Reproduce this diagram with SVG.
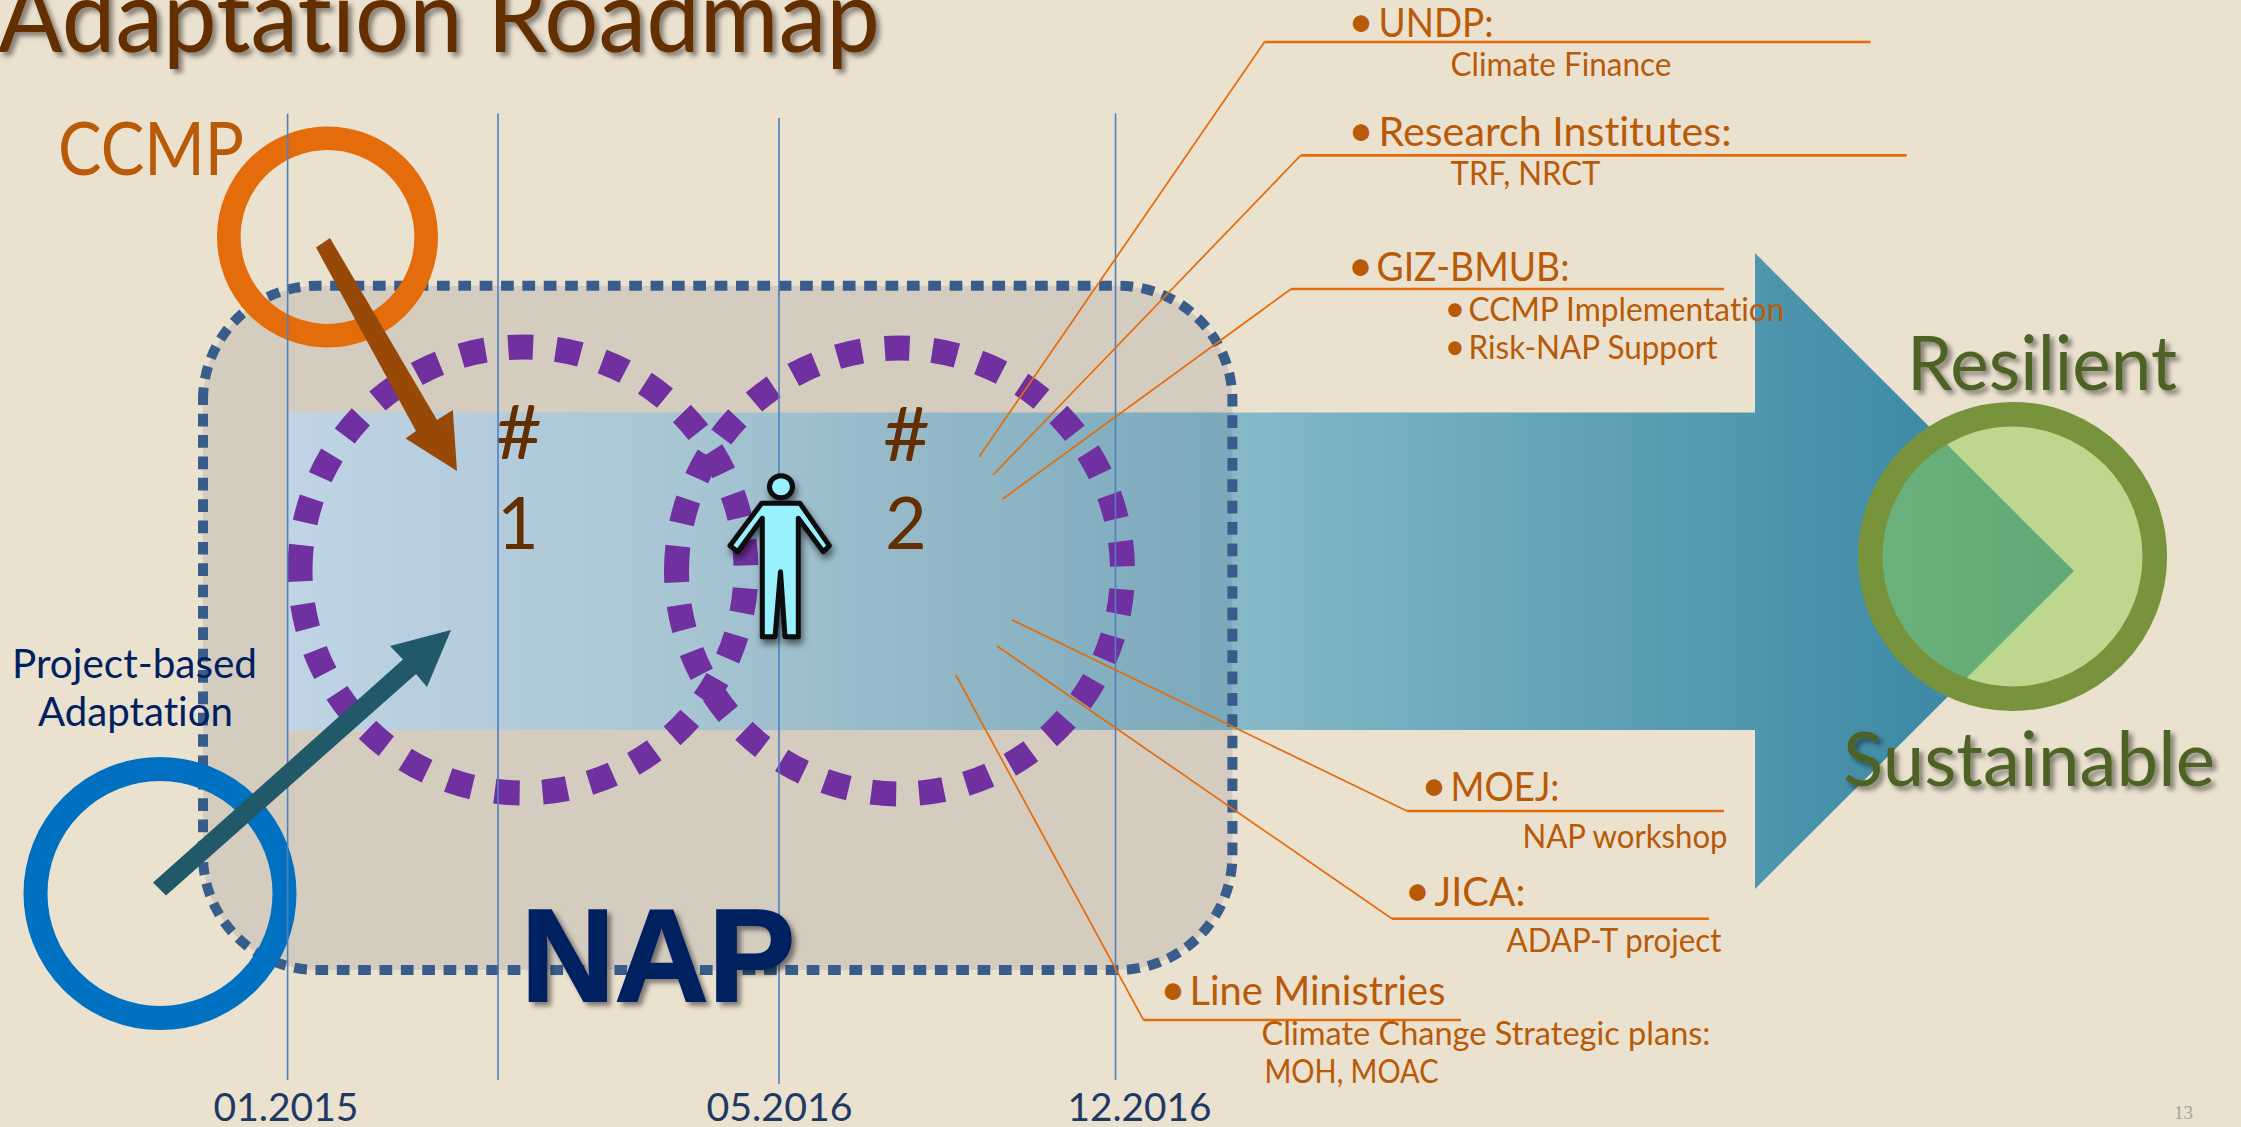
<svg xmlns="http://www.w3.org/2000/svg" width="2241" height="1127" viewBox="0 0 2241 1127">
<style>
text{font-family:"Lato","Open Sans","Liberation Sans",sans-serif;font-variant-ligatures:none}
.or{fill:#B85A08}
.h{font-size:40px}
.s{font-size:33px}
.b{fill:#B85A08;text-anchor:middle}
.bh{font-size:44px}
.bs{font-size:36px}
.dark{fill:#632E02;font-size:72px}
.hash{fill:#632E02;font-size:76px}
.date{fill:#1F3864;font-size:38px}
.navy{fill:#002060;font-size:40px}
.green{fill:#4F6228;font-size:75px}
.lead{stroke:#E46C0A;stroke-width:1.7;fill:none}
.rule{stroke:#E46C0A;stroke-width:2.6;fill:none}
.vl{stroke:#4F81BD;stroke-width:1.6;fill:none}
.pc{fill:none;stroke:#7030A0;stroke-width:25;stroke-dasharray:25 22.9}
</style>
<defs>
<linearGradient id="band" gradientUnits="userSpaceOnUse" x1="288" y1="0" x2="2075" y2="0">
<stop offset="0" stop-color="#D3E9F8"/>
<stop offset="0.2" stop-color="#BCDBE6"/>
<stop offset="0.53" stop-color="#86BAC9"/>
<stop offset="0.8" stop-color="#5399B0"/>
<stop offset="0.91" stop-color="#3F8BA6"/>
<stop offset="1" stop-color="#3F8BA6"/>
</linearGradient>
<linearGradient id="tip" gradientUnits="userSpaceOnUse" x1="1870" y1="0" x2="2075" y2="0">
<stop offset="0" stop-color="#6CB27B"/>
<stop offset="1" stop-color="#62A878"/>
</linearGradient>
<filter id="sh" x="-10%" y="-20%" width="125%" height="150%">
<feDropShadow dx="4" dy="4" stdDeviation="2.5" flood-color="#000" flood-opacity="0.45"/>
</filter>
<filter id="psh" x="-30%" y="-20%" width="160%" height="140%">
<feGaussianBlur stdDeviation="0.7" in="SourceGraphic" result="s"/>
<feDropShadow dx="2" dy="5" stdDeviation="3.5" flood-color="#000" flood-opacity="0.55" in="s"/>
</filter>
<clipPath id="inner"><circle cx="2012.5" cy="556.5" r="142"/></clipPath>
</defs>
<rect width="2241" height="1127" fill="#EBE1CF"/>

<g id="title"><text x="-2" y="52" font-size="100" fill="#632E02" textLength="882" lengthAdjust="spacingAndGlyphs" filter="url(#sh)">Adaptation Roadmap</text></g>

<g id="band-arrow"><path d="M288 412.5H1755V253L2074 571L1755 889V730H288Z" fill="url(#band)"/></g>

<g id="nap-box">
<path d="M203 400A114.3 114.3 0 0 1 317.3 285.7H1118.1A114.3 114.3 0 0 1 1232.4 400V855.7A114.3 114.3 0 0 1 1118.1 970H317.3A114.3 114.3 0 0 1 203 855.7Z" fill="#000328" fill-opacity="0.09"/>
<path d="M203 400A114.3 114.3 0 0 1 317.3 285.7H1118.1A114.3 114.3 0 0 1 1232.4 400V855.7A114.3 114.3 0 0 1 1118.1 970H317.3A114.3 114.3 0 0 1 203 855.7Z" fill="none" stroke="#385D8A" stroke-width="10" stroke-dasharray="12.7 8.66"/>
</g>

<g id="phase-1">
<path class="pc" d="M300 570A223 223 0 1 1 746 570A223 223 0 1 1 300 570Z"/>
<text class="hash" x="495" y="459" textLength="47" lengthAdjust="spacingAndGlyphs">#</text>
<text class="dark" x="518" y="549" text-anchor="middle">1</text>
</g>
<g id="phase-2">
<path class="pc" d="M676.5 571A223 223 0 1 1 1122.5 571A223 223 0 1 1 676.5 571Z"/>
<text class="hash" x="883" y="461" textLength="47" lengthAdjust="spacingAndGlyphs">#</text>
<text class="dark" x="906" y="549" text-anchor="middle">2</text>
</g>

<g id="outcome">
<circle cx="2012.5" cy="556.5" r="142" fill="#BDD78E"/>
<path d="M1755 253L2074 571L1755 889Z" fill="url(#tip)" clip-path="url(#inner)"/>
<circle cx="2012.5" cy="556.5" r="142.3" fill="none" stroke="#77933C" stroke-width="24.6"/>
</g>

<g id="ccmp">
<circle cx="327.5" cy="237" r="98.7" fill="none" stroke="#E46C0A" stroke-width="23.6"/>
<text x="58" y="175" font-size="74" class="or" textLength="186" lengthAdjust="spacingAndGlyphs">CCMP</text>
</g>
<g id="project-based">
<circle cx="160" cy="893.5" r="124.5" fill="none" stroke="#0070C0" stroke-width="24"/>
<text class="navy" x="12" y="678" textLength="245" lengthAdjust="spacingAndGlyphs">Project-based</text>
<text class="navy" x="38" y="726" textLength="195" lengthAdjust="spacingAndGlyphs">Adaptation</text>
</g>

<g id="timeline">
<path class="vl" d="M287.6 113.6V1080M498 113.6V1080M779 118V1084M1115.5 113.6V1080"/>
<text class="date" x="213.5" y="1121" textLength="145" lengthAdjust="spacingAndGlyphs">01.2015</text>
<text class="date" x="706.5" y="1121" textLength="146" lengthAdjust="spacingAndGlyphs">05.2016</text>
<text class="date" x="1067.5" y="1121" textLength="144" lengthAdjust="spacingAndGlyphs">12.2016</text>
</g>

<g id="connectors">
<path d="M316 247.5L330 238L437 420L452.8 410L457 471L405.6 438.6L416 431Z" fill="#984807"/>
<path d="M153 882.6L166 895.6L416 674L427 687L451 630L390 646L403 659.5Z" fill="#215968"/>
<path class="lead" d="M1264.5 42L979 457M1300.7 155.4L993 475M1291 289L1002.7 499M1407 811L1011.7 619.7M1392 918.8L997 646M1143.5 1020L955.8 675"/>
<path class="rule" d="M1264.5 42H1870.5M1300.7 155.4H1906.7M1291 289H1724M1407 811H1724M1392 918.8H1709M1143.5 1020H1461"/>
</g>

<g id="person" filter="url(#psh)">
<ellipse cx="781" cy="486.7" rx="11.5" ry="11" fill="#99F0FF" stroke="#0A0A0A" stroke-width="5"/>
<path d="M761.7 503.3H800L829.3 545.7L823.3 551.7L798.3 518.3V636.7H785L780.5 571.7L775 636.7H762.3V518.3L737.7 551.7L730 545.7Z" fill="#99F0FF" stroke="#0A0A0A" stroke-width="5" stroke-linejoin="round"/>
</g>

<g id="nap-label"><text x="521" y="1001" font-size="132" font-weight="700" fill="#002060" stroke="#002060" stroke-width="2" textLength="274" lengthAdjust="spacingAndGlyphs" style="font-family:'Liberation Sans',sans-serif" filter="url(#sh)">NAP</text></g>

<g id="undp">
<text class="b bh" x="1361" y="37">•</text>
<text class="or h" x="1378.5" y="37" textLength="115" lengthAdjust="spacingAndGlyphs">UNDP:</text>
<text class="or s" x="1450.5" y="76" textLength="221" lengthAdjust="spacingAndGlyphs">Climate Finance</text>
</g>
<g id="research">
<text class="b bh" x="1361" y="146">•</text>
<text class="or h" x="1378.5" y="145.8" textLength="353" lengthAdjust="spacingAndGlyphs">Research Institutes:</text>
<text class="or s" x="1450.5" y="184.6" textLength="150" lengthAdjust="spacingAndGlyphs">TRF, NRCT</text>
</g>
<g id="giz">
<text class="b bh" x="1360.5" y="281">•</text>
<text class="or h" x="1376.5" y="281.2" textLength="193" lengthAdjust="spacingAndGlyphs">GIZ-BMUB:</text>
<text class="b bs" x="1455" y="321">•</text>
<text class="or s" x="1468.5" y="320.7" textLength="316" lengthAdjust="spacingAndGlyphs">CCMP Implementation</text>
<text class="b bs" x="1455" y="359">•</text>
<text class="or s" x="1468.5" y="359" textLength="249" lengthAdjust="spacingAndGlyphs">Risk-NAP Support</text>
</g>
<g id="moej">
<text class="b bh" x="1434" y="801">•</text>
<text class="or h" x="1450.5" y="800.6" textLength="109" lengthAdjust="spacingAndGlyphs">MOEJ:</text>
<text class="or s" x="1522.5" y="847.5" textLength="205" lengthAdjust="spacingAndGlyphs">NAP workshop</text>
</g>
<g id="jica">
<text class="b bh" x="1417.6" y="906">•</text>
<text class="or h" x="1434.5" y="905.5" textLength="91" lengthAdjust="spacingAndGlyphs">JICA:</text>
<text class="or s" x="1506.5" y="952.4" textLength="215" lengthAdjust="spacingAndGlyphs">ADAP-T project</text>
</g>
<g id="ministries">
<text class="b bh" x="1173" y="1005">•</text>
<text class="or h" x="1189.5" y="1005.2" textLength="256" lengthAdjust="spacingAndGlyphs">Line Ministries</text>
<text class="or s" x="1261.5" y="1044.6" textLength="449" lengthAdjust="spacingAndGlyphs">Climate Change Strategic plans:</text>
<text class="or s" x="1264.5" y="1082.6" textLength="174" lengthAdjust="spacingAndGlyphs">MOH, MOAC</text>
</g>

<g id="resilient"><text class="green" x="1907" y="390" textLength="270" lengthAdjust="spacingAndGlyphs" filter="url(#sh)">Resilient</text></g>
<g id="sustainable"><text class="green" x="1843" y="786" textLength="372" lengthAdjust="spacingAndGlyphs" filter="url(#sh)">Sustainable</text></g>
<g id="page"><text x="2174" y="1119" font-size="19" fill="#A3A3A3" style="font-family:'Liberation Serif',serif">13</text></g>
</svg>
